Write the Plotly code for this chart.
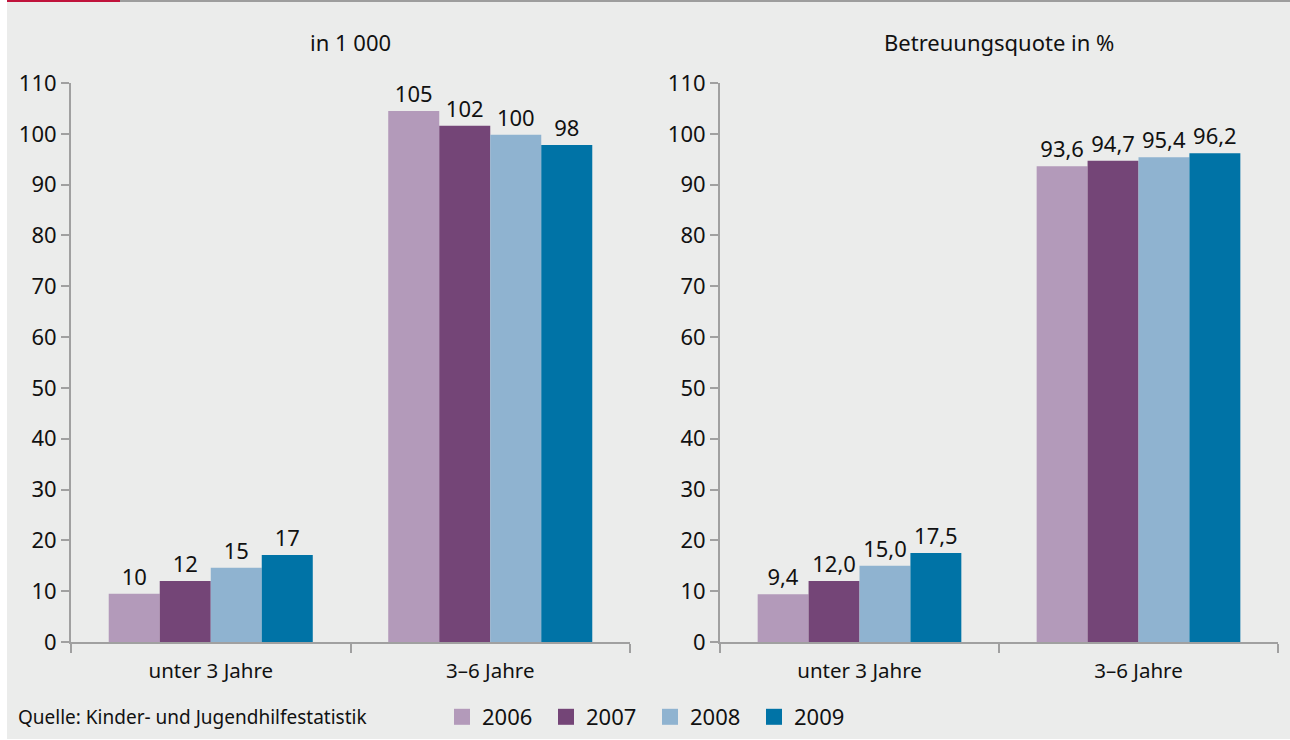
import plotly.graph_objects as go

# Data
categories = ["unter 3 Jahre", "3–6 Jahre"]
years = ["2006", "2007", "2008", "2009"]
colors = ["#b39aba", "#744577", "#8fb3d0", "#0073a6"]

# left panel: children in 1 000 (bar heights, labels as printed)
count_values = {
    "2006": [9.5, 104.5],
    "2007": [12.0, 101.6],
    "2008": [14.6, 99.8],
    "2009": [17.1, 97.8],
}
count_labels = {
    "2006": ["10", "105"],
    "2007": ["12", "102"],
    "2008": ["15", "100"],
    "2009": ["17", "98"],
}

# right panel: Betreuungsquote in %
quota_values = {
    "2006": [9.4, 93.6],
    "2007": [12.0, 94.7],
    "2008": [15.0, 95.4],
    "2009": [17.5, 96.2],
}
quota_labels = {
    "2006": ["9,4", "93,6"],
    "2007": ["12,0", "94,7"],
    "2008": ["15,0", "95,4"],
    "2009": ["17,5", "96,2"],
}

W, H = 1290, 740
FONT = "Noto Sans"
AXIS_COLOR = "#a0a0a0"
TXT = "#111111"


def px_x(p):
    return p / W


def px_y(p):
    return 1 - p / H


fig = go.Figure()

for i, yr in enumerate(years):
    fig.add_trace(go.Bar(
        x=categories, y=count_values[yr], name=yr, showlegend=False,
        marker=dict(color=colors[i], line=dict(width=0)),
        text=count_labels[yr], textposition="outside",
        textfont=dict(size=22, color=TXT, family=FONT),
        cliponaxis=False, xaxis="x", yaxis="y", legendgroup=yr,
    ))
    fig.add_trace(go.Bar(
        x=categories, y=quota_values[yr], name=yr, showlegend=False,
        marker=dict(color=colors[i], line=dict(width=0)),
        text=quota_labels[yr], textposition="outside",
        textfont=dict(size=22, color=TXT, family=FONT),
        cliponaxis=False, xaxis="x2", yaxis="y2", legendgroup=yr,
    ))
    # legend entry only (square swatch)
    fig.add_trace(go.Scatter(
        x=[None], y=[None], mode="markers", name=yr, legendgroup=yr,
        marker=dict(symbol="square", size=16, color=colors[i]),
        xaxis="x", yaxis="y",
    ))

xaxis_style = dict(
    type="category", showline=True, linecolor=AXIS_COLOR, linewidth=2,
    ticks="outside", tickson="boundaries", ticklen=9, tickwidth=2, tickcolor=AXIS_COLOR,
    ticklabelstandoff=9,
    showgrid=False, zeroline=False, tickfont=dict(size=20.5, color=TXT, family=FONT),
    fixedrange=True, automargin=False,
)
yaxis_style = dict(
    range=[0, 110], dtick=10, showline=True, linecolor=AXIS_COLOR, linewidth=2,
    ticks="outside", ticklen=8, tickwidth=2, tickcolor=AXIS_COLOR,
    showgrid=False, zeroline=False, tickfont=dict(size=22, color=TXT, family=FONT),
    domain=[px_y(642), px_y(83)], fixedrange=True, automargin=False,
)

fig.update_layout(
    width=W, height=H,
    margin=dict(l=0, r=0, t=0, b=0, autoexpand=False),
    paper_bgcolor="white", plot_bgcolor="rgba(0,0,0,0)",
    barmode="group", bargap=0.27, bargroupgap=0,
    font=dict(family=FONT, size=20, color=TXT),
    xaxis=dict(domain=[px_x(71), px_x(630)], anchor="y", **xaxis_style),
    yaxis=dict(anchor="x", **yaxis_style),
    xaxis2=dict(domain=[px_x(720), px_x(1278)], anchor="y2", **xaxis_style),
    yaxis2=dict(anchor="x2", **yaxis_style),
    legend=dict(
        orientation="h", x=px_x(442), y=px_y(717), xanchor="left", yanchor="middle",
        entrywidth=59, entrywidthmode="pixels", itemsizing="trace",
        font=dict(size=22, color=TXT, family=FONT), bgcolor="rgba(0,0,0,0)",
    ),
    shapes=[
        dict(type="rect", xref="paper", yref="paper", x0=px_x(7), x1=1, y0=px_y(739), y1=1,
             fillcolor="#ebeceb", line=dict(width=0), layer="below"),
        dict(type="rect", xref="paper", yref="paper", x0=px_x(7), x1=px_x(120), y0=px_y(2), y1=1,
             fillcolor="#c0133b", line=dict(width=0)),
        dict(type="rect", xref="paper", yref="paper", x0=px_x(120), x1=1, y0=px_y(2), y1=1,
             fillcolor="#9d9d9d", line=dict(width=0)),
    ],
    annotations=[
        dict(text="in 1 000", x=px_x(350), y=px_y(42), xref="paper", yref="paper",
             showarrow=False, font=dict(size=22), xanchor="center", yanchor="middle"),
        dict(text="Betreuungsquote in %", x=px_x(999), y=px_y(42), xref="paper", yref="paper",
             showarrow=False, font=dict(size=22), xanchor="center", yanchor="middle"),
        dict(text="Quelle: Kinder- und Jugendhilfestatistik", x=px_x(16), y=px_y(717),
             xref="paper", yref="paper", showarrow=False, font=dict(size=19),
             xanchor="left", yanchor="middle"),
    ],
)

# drop the default page margin so the figure sits at the window's top-left corner
fig.write_html(
    "out.html",
    config={"displayModeBar": False},
    post_script="document.body.style.margin='0';",
)
